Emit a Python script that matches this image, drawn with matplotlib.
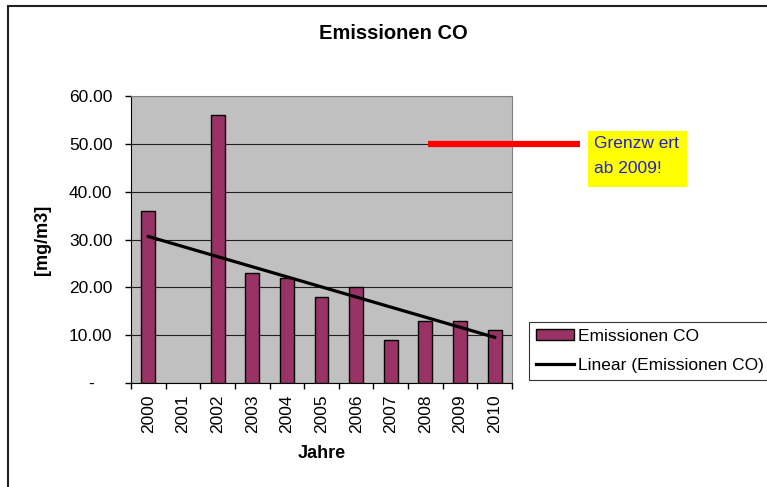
import numpy as np
import matplotlib
matplotlib.use('Agg')
import matplotlib.pyplot as plt
from matplotlib.patches import Rectangle
from matplotlib.ticker import FixedLocator

plt.rcParams['font.family'] = ['Liberation Sans', 'DejaVu Sans']

# data
years = ['2000', '2001', '2002', '2003', '2004', '2005', '2006', '2007', '2008', '2009', '2010']
emissions = [36, 0, 56, 23, 22, 18, 20, 9, 13, 13, 11]
y_ticks = [0, 10, 20, 30, 40, 50, 60]
grenzwert = 50

W, H = 767, 487
fig = plt.figure(figsize=(W / 100, H / 100), dpi=100)

# outer chart border (cut off at right/bottom like the screenshot)
fig.patches.append(Rectangle((8 / W, -0.1), 1.2, 1 - 6 / H + 0.1, transform=fig.transFigure,
                             facecolor='white', edgecolor='#202020', linewidth=1.5, zorder=-10))

ax = fig.add_axes([131 / W, 1 - 383 / H, (512 - 131) / W, (383 - 96) / H])
ax.set_facecolor('#C0C0C0')

x = np.arange(len(years))
bars = ax.bar(x, emissions, width=0.4, color='#993366', edgecolor='black', linewidth=1,
              label='Emissionen CO', zorder=3)
for b, v in zip(bars, emissions):
    if v == 0:
        b.set_visible(False)

# linear trend like Excel
k, d = np.polyfit(x, emissions, 1)
trend, = ax.plot(x, k * x + d, color='black', linewidth=2.3, label='Linear (Emissionen CO)', zorder=4)

ax.set_xlim(-0.5, len(years) - 0.5)
ax.set_ylim(0, 60)
ax.set_xticks(x)
ax.set_xticklabels(years, rotation=90, fontsize=12.5)
ax.xaxis.set_minor_locator(FixedLocator(np.arange(-0.5, len(years), 1)))
ax.tick_params(axis='x', which='major', length=0, pad=8)
ax.tick_params(axis='x', which='minor', length=4, width=1, direction='out')
ax.set_yticks(y_ticks)
ax.set_yticklabels(['-' if v == 0 else f'{v:.2f}' for v in y_ticks], fontsize=12.5)
ax.tick_params(axis='y', length=4, width=1, direction='out', pad=25)
for lab in ax.get_yticklabels():
    lab.set_horizontalalignment('center')
ax.yaxis.grid(True, color='#202020', linewidth=0.8, zorder=1)
ax.set_axisbelow(True)

for side in ['top', 'right']:
    ax.spines[side].set_color('#808080')
for side in ['left', 'bottom']:
    ax.spines[side].set_color('black')

ax.set_xlabel('Jahre', fontsize=13, fontweight='bold', va='center')
ax.xaxis.set_label_coords(0.5, -0.244)
ax.set_ylabel('[mg/m3]', fontsize=13, fontweight='bold', va='center')
ax.yaxis.set_label_coords(-0.231, 0.5)

fig.text(393 / W, 1 - 33 / H, 'Emissionen CO', fontsize=14.5, fontweight='bold',
         ha='center', va='center')

# red limit line, reaching out of the plot area
ax.plot([8.07, 12.46], [grenzwert, grenzwert], color='#FF0000', linewidth=4.5,
        clip_on=False, zorder=5, solid_capstyle='butt')

fig.patches.append(Rectangle((588 / W, 1 - 187 / H), (687 - 588) / W, (187 - 131) / H,
                             transform=fig.transFigure, facecolor='#FFFF00', edgecolor='none'))
fig.text(594 / W, 1 - 156 / H, 'Grenzw ert\nab 2009!', fontsize=12.5, color='#2020CC',
         ha='left', va='center', linespacing=1.85)

leg = fig.legend([bars, trend], ['Emissionen CO', 'Linear (Emissionen CO)'],
                 loc='upper left', bbox_to_anchor=(529 / W, 1 - 322 / H), fontsize=12.5,
                 frameon=True, fancybox=False, borderaxespad=0, handlelength=2.2,
                 handleheight=0.6, handletextpad=0.2, borderpad=0.4, labelspacing=0.8)
leg.get_frame().set_edgecolor('black')
leg.get_frame().set_linewidth(0.8)

fig.savefig('out.png', dpi=100)
